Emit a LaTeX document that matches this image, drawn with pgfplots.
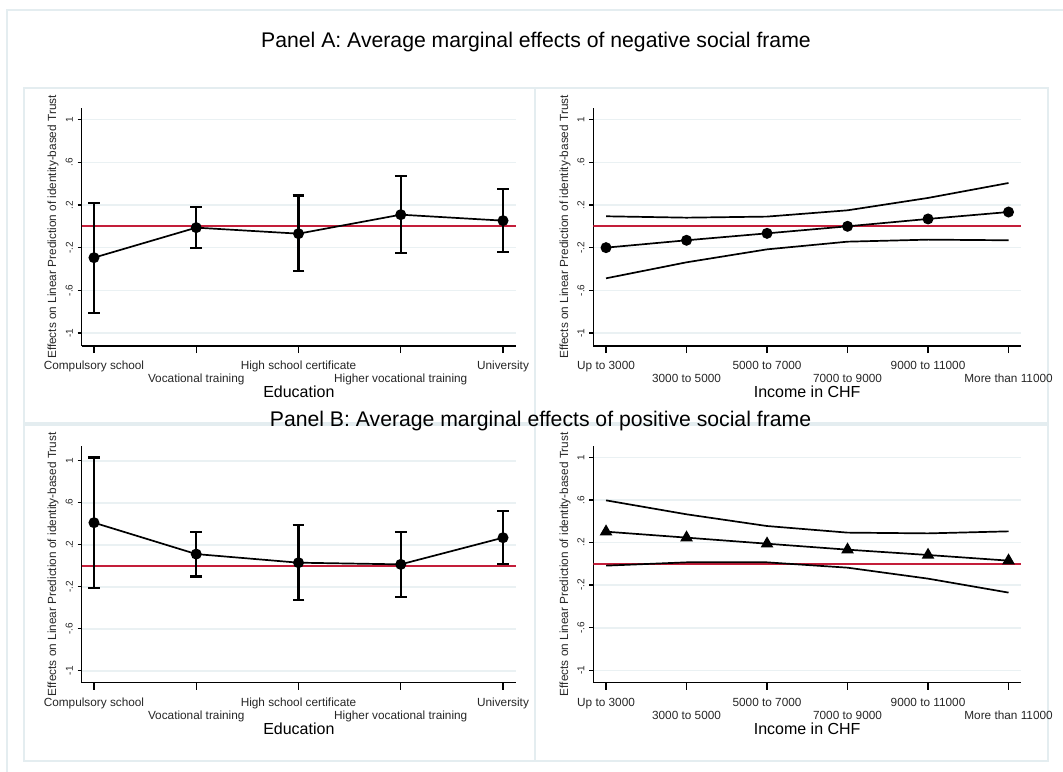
\documentclass[border=0pt]{standalone}
\usepackage{pgfplots}
\pgfplotsset{compat=1.18}
\usepackage{pgfplotstable}
\usepackage{fontspec}
\setmainfont{Liberation Sans}
\definecolor{gridc}{HTML}{EAF1F3}
\definecolor{boxc}{HTML}{E4EDF0}
\definecolor{refred}{HTML}{C41E3A}

% Panel A, Education
\pgfplotstableread{
x y hi lo
0 -0.294 0.222 -0.809
1 -0.0125 0.184 -0.206
2 -0.069 0.288 -0.416
3 0.109 0.475 -0.250
4 0.053 0.347 -0.238
}\tabAL
% Panel A, Income
\pgfplotstableread{
x y hi lo
0 -0.200 0.094 -0.4875
1 -0.131 0.081 -0.3375
2 -0.066 0.091 -0.216
3 0.000 0.150 -0.144
4 0.069 0.266 -0.125
5 0.134 0.406 -0.131
}\tabAR
% Panel B, Education
\pgfplotstableread{
x y hi lo
0 0.410 1.030 -0.210
1 0.111 0.324 -0.102
2 0.029 0.390 -0.330
3 0.013 0.324 -0.295
4 0.267 0.520 0.016
}\tabBL
% Panel B, Income
\pgfplotstableread{
x y hi lo
0 0.302 0.596 -0.017
1 0.246 0.465 0.014
2 0.189 0.355 0.014
3 0.133 0.293 -0.036
4 0.083 0.286 -0.139
5 0.030 0.305 -0.270
}\tabBR

\pgfplotsset{
  panel/.style={
    scale only axis, anchor=north west,
    axis lines*=left, tick align=outside,
    axis line style={black, line width=0.65pt},
    ytick={-1,-0.6,-0.2,0.2,0.6,1},
    yticklabels={-1,-.6,-.2,.2,.6,1},
    ymajorgrids, major grid style={gridc, line width=0.8pt},
    yticklabel style={rotate=90, anchor=south, font=\fontsize{5}{6}\selectfont, inner sep=0pt, text=black!85},
    xticklabel style={anchor=north, font=\fontsize{5.9}{7}\selectfont, text height=4.3pt, text depth=1.3pt, inner sep=0pt, text=black!85, yshift=-3pt},
    xtick style={black, line width=0.65pt, /pgfplots/major tick length=3.5pt},
    ytick style={black, line width=0.65pt, /pgfplots/major tick length=2pt},
    xlabel style={at={(axis description cs:0.5,-0.194)}, anchor=center, font=\fontsize{8}{9}\selectfont},
    ylabel style={at={(axis description cs:-0.066,0.5)}, anchor=center, font=\fontsize{5.9}{7}\selectfont, text=black!85},
    ylabel={Effects on Linear Prediction of identity-based Trust},
  },
  edu/.style={panel, xmin=-0.12, xmax=4.127, width=217.15pt,
    xtick={0,1,2,3,4},
    xticklabels={Compulsory school, \raisebox{-6.5pt}{Vocational training}, High school certificate, \raisebox{-6.5pt}{Higher vocational training}, University},
    xlabel={Education}},
  inc/.style={panel, xmin=-0.158, xmax=5.155, width=213.85pt,
    xtick={0,1,2,3,4,5},
    xticklabels={Up to 3000, \raisebox{-6.5pt}{3000 to 5000}, 5000 to 7000, \raisebox{-6.5pt}{7000 to 9000}, 9000 to 11000, \raisebox{-6.5pt}{More than 11000}},
    xlabel={Income in CHF}},
  ebar/.style={black, line width=0.85pt, mark=*, mark size=2.3pt, mark options={solid, fill=black},
    error bars/.cd, y dir=both, y explicit,
    error bar style={line width=1.1pt, black},
    error mark options={rotate=90, mark size=2.9pt, line width=1.1pt, black}},
}

\begin{document}
\begin{tikzpicture}
\useasboundingbox (0,0) rectangle (531.5pt,-385.5pt);
% frames
\draw[boxc, line width=0.8pt] (3.5pt,-390pt) -- (3.5pt,-5pt) -- (535pt,-5pt);
\draw[boxc, line width=0.8pt] (12pt,-44pt) rectangle (267.5pt,-211.5pt);
\draw[boxc, line width=0.8pt] (267.5pt,-44pt) rectangle (524pt,-211.5pt);
\draw[boxc, line width=0.8pt] (12pt,-212.5pt) rectangle (267.5pt,-380.5pt);
\draw[boxc, line width=0.8pt] (267.5pt,-212.5pt) rectangle (524pt,-380.5pt);

\node[font=\fontsize{10.6}{12}\selectfont] at (268pt,-21pt) {Panel A: Average marginal effects of negative social frame};
\node[font=\fontsize{10.6}{12}\selectfont] at (270.25pt,-210.5pt) {Panel B: Average marginal effects of positive social frame};

% Panel A left
\begin{axis}[edu, at={(40.85pt,-54pt)}, height=119pt, ymin=-1.122, ymax=1.109]
\addplot[refred, line width=1pt, forget plot] coordinates {(-0.12,0) (4.127,0)};
\addplot[ebar] table[x=x, y=y, y error plus expr=\thisrow{hi}-\thisrow{y}, y error minus expr=\thisrow{y}-\thisrow{lo}] {\tabAL};
\end{axis}

% Panel A right
\begin{axis}[inc, at={(296.65pt,-54pt)}, height=119pt, ymin=-1.122, ymax=1.109]
\addplot[refred, line width=1pt, forget plot] coordinates {(-0.158,0) (5.155,0)};
\addplot[black, line width=0.85pt] table[x=x, y=hi] {\tabAR};
\addplot[black, line width=0.85pt] table[x=x, y=lo] {\tabAR};
\addplot[black, line width=0.85pt, mark=*, mark size=2.3pt, mark options={fill=black}] table[x=x, y=y] {\tabAR};
\end{axis}

% Panel B left
\begin{axis}[edu, at={(40.85pt,-222.85pt)}, height=118.5pt, ymin=-1.114, ymax=1.143]
\addplot[refred, line width=1pt, forget plot] coordinates {(-0.12,0) (4.127,0)};
\addplot[ebar] table[x=x, y=y, y error plus expr=\thisrow{hi}-\thisrow{y}, y error minus expr=\thisrow{y}-\thisrow{lo}] {\tabBL};
\end{axis}

% Panel B right
\begin{axis}[inc, at={(296.65pt,-222.85pt)}, height=118.5pt, ymin=-1.116, ymax=1.109]
\addplot[refred, line width=1pt, forget plot] coordinates {(-0.158,0) (5.155,0)};
\addplot[black, line width=0.85pt] table[x=x, y=hi] {\tabBR};
\addplot[black, line width=0.85pt] table[x=x, y=lo] {\tabBR};
\addplot[black, line width=0.85pt, mark=triangle*, mark size=2.8pt, mark options={fill=black}] table[x=x, y=y] {\tabBR};
\end{axis}
\end{tikzpicture}
\end{document}
